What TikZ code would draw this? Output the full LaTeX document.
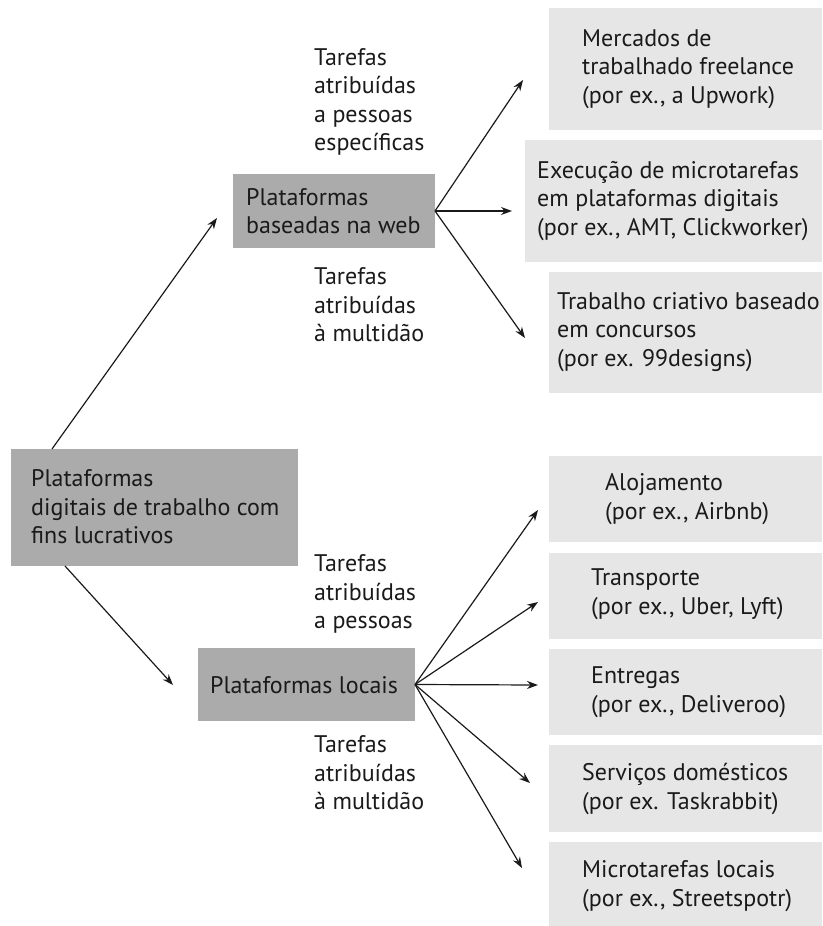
\documentclass[tikz,border=0pt]{standalone}
\usepackage{fontspec}
\setmainfont{PT Sans}
\usetikzlibrary{arrows.meta}
\definecolor{darkbox}{HTML}{ABABAB}
\definecolor{lightbox}{HTML}{E6E6E6}
\definecolor{ink}{HTML}{1A1A1A}
\begin{document}
\begin{tikzpicture}[x=1pt,y=-1pt,
  dbox/.style={fill=darkbox,draw=none,inner sep=0pt,outer sep=0pt,anchor=north west},
  lbox/.style={fill=lightbox,draw=none,inner sep=0pt,outer sep=0pt,anchor=north west},
  txt/.style={anchor=west,align=left,inner sep=0pt,text=ink,font=\fontsize{24pt}{28.5pt}\selectfont},
  arr/.style={-{Stealth[length=11pt,width=8pt]},line width=1.2pt,draw=ink}]
\useasboundingbox (0,0) rectangle (822,926);
% main boxes
\node[dbox,minimum width=287pt,minimum height=117pt] (root) at (11,449) {};
\node[txt] (rootT) at (31,507) {Plataformas\\digitais de trabalho com\\fins lucrativos};
\node[dbox,minimum width=202pt,minimum height=74pt] (web) at (233,174) {};
\node[txt] (webT) at (246,211) {Plataformas\\baseadas na web};
\node[dbox,minimum width=217pt,minimum height=73pt] (local) at (198,648) {};
\node[txt] (localT) at (210,685) {Plataformas locais};
% web-based outcomes
\node[lbox,minimum width=273pt,minimum height=122pt] (b1) at (549,8) {};
\node[txt] (b1T) at (582,69) {Mercados de\\trabalhado freelance\\(por ex., a Upwork)};
\node[lbox,minimum width=297pt,minimum height=122pt] (b2) at (525,140) {};
\node[txt] (b2T) at (537,201) {Execução de microtarefas\\em plataformas digitais\\(por ex., AMT, Clickworker)};
\node[lbox,minimum width=273pt,minimum height=121pt] (b3) at (549,272) {};
\node[txt] (b3T) at (557,332) {Trabalho criativo baseado\\em concursos\\(por ex. 99designs)};
% local outcomes
\node[lbox,minimum width=273pt,minimum height=86pt] (c1) at (549,456) {};
\node[txt] (c1T) at (605,499) {Alojamento\\(por ex., Airbnb)};
\node[lbox,minimum width=273pt,minimum height=86pt] (c2) at (549,553) {};
\node[txt] (c2T) at (591,594) {Transporte\\(por ex., Uber, Lyft)};
\node[lbox,minimum width=273pt,minimum height=86pt] (c3) at (549,649) {};
\node[txt] (c3T) at (591,692) {Entregas\\(por ex., Deliveroo)};
\node[lbox,minimum width=273pt,minimum height=87pt] (c4) at (549,745) {};
\node[txt] (c4T) at (582,789) {Serviços domésticos\\(por ex. Taskrabbit)};
\node[lbox,minimum width=273pt,minimum height=84pt] (c5) at (549,842) {};
\node[txt] (c5T) at (582,886) {Microtarefas locais\\(por ex., Streetspotr)};
% labels
\node[txt] (l1) at (314,102) {Tarefas\\atribuídas\\a pessoas\\específicas};
\node[txt] (l2) at (314,305) {Tarefas\\atribuídas\\à multidão};
\node[txt] (l3) at (314,594) {Tarefas\\atribuídas\\a pessoas};
\node[txt] (l4) at (314,773) {Tarefas\\atribuídas\\à multidão};
% arrow end points
\coordinate (tWeb) at (217,218);
\coordinate (tLocal) at (173,685);
\coordinate (tb1) at (523,80);
\coordinate (tb2) at (512,211);
\coordinate (tb3) at (525,338);
\coordinate (tc1) at (538,510);
\coordinate (tc2) at (538,602);
\coordinate (tc3) at (538,685);
\coordinate (tc4) at (530,783);
\coordinate (tc5) at (522,868);
% connectors
\draw[arr] ([xshift=41pt]root.north west) -- (tWeb);
\draw[arr] ([xshift=54pt]root.south west) -- (tLocal);
\draw[arr] (web.east) -- (tb1);
\draw[arr] (web.east) -- (tb2);
\draw[arr] (web.east) -- (tb3);
\draw[arr] (local.east) -- (tc1);
\draw[arr] (local.east) -- (tc2);
\draw[arr] (local.east) -- (tc3);
\draw[arr] (local.east) -- (tc4);
\draw[arr] (local.east) -- (tc5);
\end{tikzpicture}
\end{document}
